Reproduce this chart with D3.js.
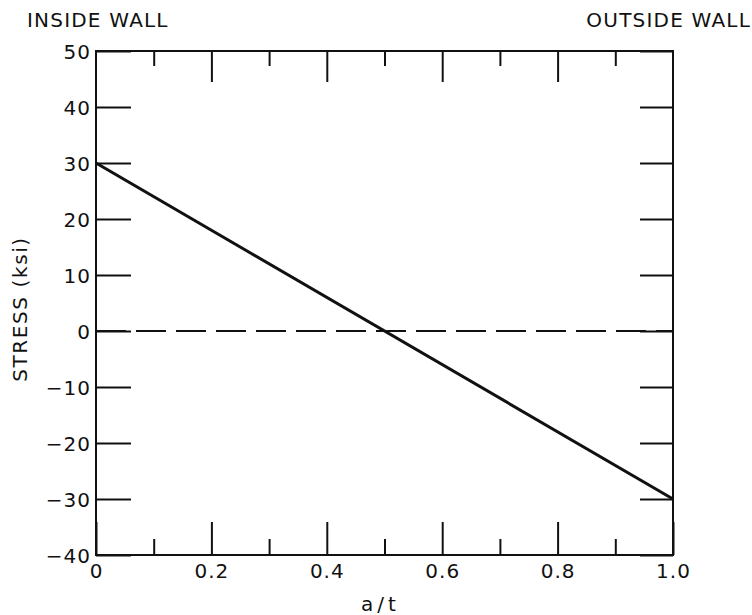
<!DOCTYPE html>
<html>
<head>
<meta charset="utf-8">
<script src="https://cdn.jsdelivr.net/npm/d3@7"></script>
<style>
  html, body { margin: 0; padding: 0; background: #fff; }
  svg { display: block; }
  text { font-family: "DejaVu Sans", sans-serif; fill: #111; }
</style>
</head>
<body>
<div id="chart"></div>
<script>
// Data
const xMajorTicks = [0, 0.2, 0.4, 0.6, 0.8, 1.0];
const xMajorLabels = ["0", "0.2", "0.4", "0.6", "0.8", "1.0"];
const xMinorTicks = [0.1, 0.3, 0.5, 0.7, 0.9];
const yTicks = [50, 40, 30, 20, 10, 0, -10, -20, -30, -40];
const yLabels = ["50", "40", "30", "20", "10", "0", "\u221210", "\u221220", "\u221230", "\u221240"];
const stressX = [0, 1.0];
const stressY = [30, -30];
const zeroX = [0, 1.0];
const zeroY = [0, 0];
const titleLeft = "INSIDE WALL";
const titleRight = "OUTSIDE WALL";
const xTitle = "a/t";
const yTitle = "STRESS (ksi)";

const W = 752, H = 615;
const m = { left: 96, right: 79, top: 51, bottom: 60 };
const iw = W - m.left - m.right, ih = H - m.top - m.bottom;

const svg = d3.select("#chart").append("svg").attr("width", W).attr("height", H);
const g = svg.append("g").attr("transform", `translate(${m.left},${m.top})`);

const x = d3.scaleLinear().domain([0, 1]).range([0, iw]);
const y = d3.scaleLinear().domain([-40, 50]).range([ih, 0]);

function styleAxis(sel) {
  sel.select(".domain").remove();
  sel.selectAll(".tick line").attr("stroke", "#111").attr("stroke-width", 2);
  sel.selectAll(".tick text").style("font-family", "DejaVu Sans, sans-serif")
    .style("font-size", "20px").style("letter-spacing", "1px").attr("fill", "#111");
}

// Left axis with labels
g.append("g")
  .call(d3.axisLeft(y).tickValues(yTicks).tickSizeInner(-35).tickSizeOuter(0).tickPadding(5)
    .tickFormat((d, i) => yLabels[i]))
  .call(styleAxis)
  .selectAll(".tick text").attr("dy", "0.36em");

// Right axis ticks
g.append("g").attr("transform", `translate(${iw},0)`)
  .call(d3.axisRight(y).tickValues(yTicks).tickSizeInner(-33).tickSizeOuter(0).tickFormat(""))
  .call(styleAxis);

// Bottom major with labels
g.append("g").attr("transform", `translate(0,${ih})`)
  .call(d3.axisBottom(x).tickValues(xMajorTicks).tickSizeInner(-33).tickSizeOuter(0).tickPadding(9)
    .tickFormat((d, i) => xMajorLabels[i]))
  .call(styleAxis);
// Bottom minor
g.append("g").attr("transform", `translate(0,${ih})`)
  .call(d3.axisBottom(x).tickValues(xMinorTicks).tickSizeInner(-16).tickSizeOuter(0).tickFormat(""))
  .call(styleAxis);
// Top major
g.append("g")
  .call(d3.axisTop(x).tickValues(xMajorTicks.slice(1, -1)).tickSizeInner(-31).tickSizeOuter(0).tickFormat(""))
  .call(styleAxis);
// Top minor
g.append("g")
  .call(d3.axisTop(x).tickValues(xMinorTicks).tickSizeInner(-15).tickSizeOuter(0).tickFormat(""))
  .call(styleAxis);

// Frame
g.append("rect").attr("x", 0).attr("y", 0).attr("width", iw).attr("height", ih)
  .attr("fill", "none").attr("stroke", "#111").attr("stroke-width", 2);

// Zero dashed line
const line = d3.line().x(d => x(d[0])).y(d => y(d[1]));
g.append("path").datum(zeroX.map((v, i) => [v, zeroY[i]]))
  .attr("d", line).attr("fill", "none").attr("stroke", "#111")
  .attr("stroke-width", 2).attr("stroke-dasharray", "30,10");

// Stress line
g.append("path").datum(stressX.map((v, i) => [v, stressY[i]]))
  .attr("d", line).attr("fill", "none").attr("stroke", "#111")
  .attr("stroke-width", 3);

// Titles
svg.append("text").attr("x", 27).attr("y", 27).style("font-size", "20px")
  .style("letter-spacing", "1.2px").text(titleLeft);
svg.append("text").attr("x", 751).attr("y", 27).attr("text-anchor", "end").style("font-size", "20px")
  .style("letter-spacing", "1.2px").text(titleRight);

svg.append("text").attr("x", m.left + iw / 2 - 4).attr("y", 611).attr("text-anchor", "middle")
  .style("font-size", "20px").style("letter-spacing", "4px").text(xTitle);

svg.append("text").attr("transform", `translate(27,${m.top + ih / 2 + 6}) rotate(-90)`)
  .attr("text-anchor", "middle").style("font-size", "20px").style("letter-spacing", "1.6px").text(yTitle);
</script>
</body>
</html>
